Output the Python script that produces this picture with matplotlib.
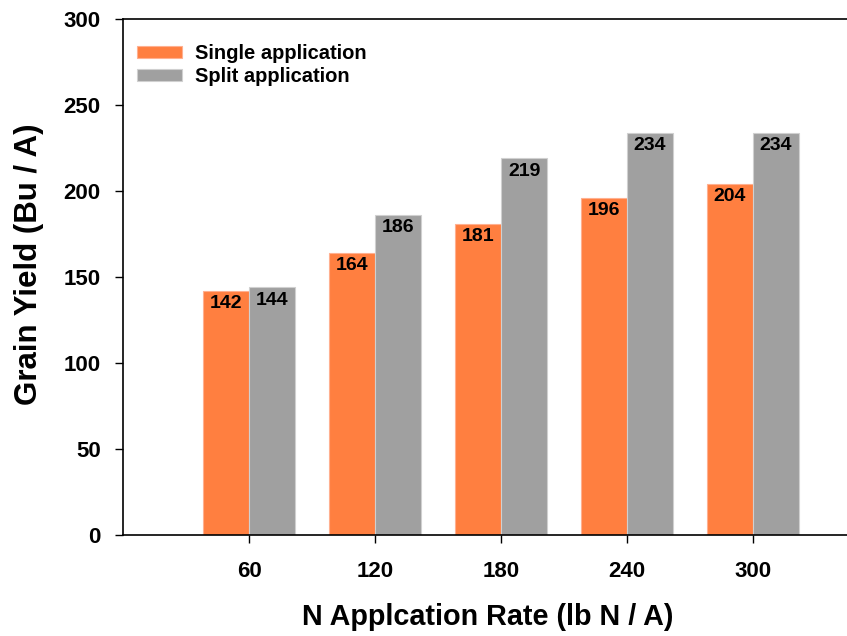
import matplotlib.pyplot as plt
import numpy as np

plt.rcParams['font.family'] = ['Liberation Sans', 'DejaVu Sans']
plt.rcParams['font.weight'] = 'bold'

# data
rates = [60, 120, 180, 240, 300]
single = [142, 164, 181, 196, 204]
split = [144, 186, 219, 234, 234]
series_names = ["Single application", "Split application"]

orange = "#FF7F40"
gray = "#A0A0A0"
w = 22

fig = plt.figure(figsize=(8.47, 6.36), dpi=100)
ax = fig.add_axes([123 / 847, 1 - 535 / 636, 756 / 847, 516 / 636])

x = np.array(rates)
ax.bar(x - w / 2, single, width=w, color=orange, edgecolor="#FFB090", linewidth=0.8,
       label=series_names[0])
ax.bar(x + w / 2, split, width=w, color=gray, edgecolor="#D0D0D0", linewidth=0.8,
       label=series_names[1])

for xs, vals in [(x - w / 2, single), (x + w / 2, split)]:
    for xi, v in zip(xs, vals):
        ax.text(xi, v - 2.5, str(v), ha="center", va="top", fontsize=14, fontweight="bold")

ax.set_xlim(0, 360)
ax.set_ylim(0, 300)
ax.set_xticks(rates)
ax.set_yticks(np.arange(0, 301, 50))
ax.tick_params(direction="out", length=6, width=1, labelsize=16)
ax.tick_params(axis="x", pad=13)
ax.tick_params(axis="y", pad=10)
ax.spines["right"].set_visible(False)
for s in ax.spines.values():
    s.set_linewidth(1.2)

ax.set_xlabel("N Applcation Rate (lb N / A)", fontsize=20.7, fontweight="bold")
ax.set_ylabel("Grain Yield (Bu / A)", fontsize=22.5, fontweight="bold")
ax.xaxis.set_label_coords(0.483, -0.132)
ax.yaxis.set_label_coords(-0.1045, 0.525)

ax.legend(loc="upper left", bbox_to_anchor=(0.008, 0.967), borderaxespad=0, frameon=False,
          fontsize=14.5, handlelength=2.24, handleheight=0.6, handletextpad=0.65,
          labelspacing=0.2)

plt.savefig("out.png", dpi=100)
